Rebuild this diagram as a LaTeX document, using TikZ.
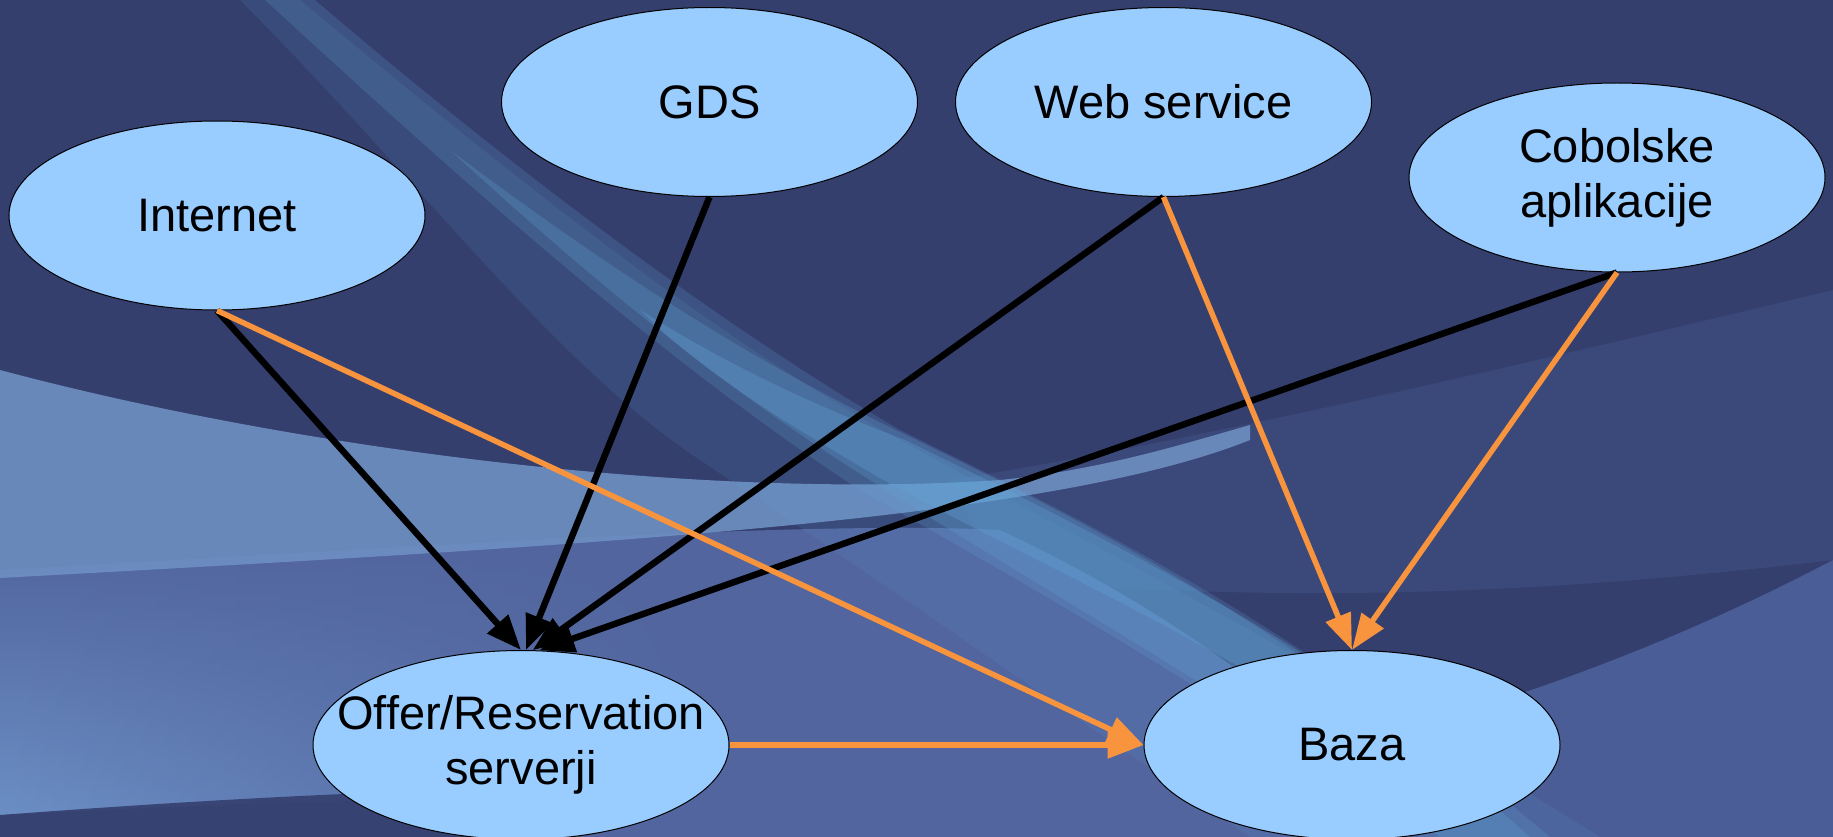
\documentclass[tikz,border=0pt]{standalone}
\usepackage{fontspec}
\setmainfont{Liberation Sans}
\usetikzlibrary{shapes.geometric,arrows.meta,fadings}
\definecolor{navy}{HTML}{343F6E}
\definecolor{ellfill}{HTML}{99CCFF}
\definecolor{orng}{HTML}{F7943D}
\definecolor{swooshc}{HTML}{62A6D8}
\definecolor{wavelight}{HTML}{6E90C2}
\definecolor{wavemid}{HTML}{52659E}
\definecolor{wavedark}{HTML}{4A5D96}
\definecolor{wavepale}{HTML}{6B8FC5}
\tikzfading[name=faderight, left color=transparent!0, middle color=transparent!0, right color=transparent!100]
\tikzset{
 ell/.style={ellipse, draw=black, line width=1pt, fill=ellfill, minimum width=416pt, minimum height=189pt, inner sep=0pt},
 lbl/.style={font=\fontsize{47}{55}\selectfont, align=center, text=black, inner sep=0pt},
 blk/.style={draw=black, line width=6.5pt, -{Triangle[length=35pt,width=27pt]}},
 org/.style={draw=orng, line width=5.5pt, -{Triangle[length=36pt,width=26pt]}},
}
\begin{document}
\begin{tikzpicture}[x=1pt,y=-1pt]
\useasboundingbox (0,0) rectangle (1833,837);
% background
\fill[navy] (0,0) rectangle (1833,837);
% faint wave on the right
\fill[wavedark, opacity=0.3] (950,480) .. controls (1200,440) and (1500,370) .. (1833,290)
   -- (1833,560) .. controls (1500,600) and (1250,600) .. (1000,580) -- cycle;
% lower region
\fill[wavemid] (0,570) .. controls (400,548) and (800,520) .. (1000,530)
   .. controls (1150,600) and (1300,700) .. (1420,837) -- (0,837) -- cycle;
% lower right band
\fill[wavedark] (1400,730) .. controls (1550,690) and (1700,630) .. (1833,560)
   -- (1833,837) -- (1300,837) -- cycle;
% lower left: gradually lighter downwards, fading out to the right
\shade[top color=wavemid, bottom color=wavepale, path fading=faderight]
   (0,575) .. controls (250,562) and (450,552) .. (700,545)
   -- (700,800) .. controls (400,795) and (200,805) .. (0,815) -- cycle;
% bottom left dark area
\fill[navy, opacity=0.9] (0,815) .. controls (200,800) and (380,790) .. (560,788)
   -- (560,837) -- (0,837) -- cycle;
% left light wave
\fill[wavelight, opacity=0.9] (0,370) .. controls (300,450) and (700,500) .. (1000,480)
   .. controls (1100,470) and (1180,445) .. (1250,425)
   -- (1250,440) .. controls (1050,520) and (600,545) .. (0,578) -- cycle;
% diagonal swoosh: faint broad part
\fill[swooshc, opacity=0.12] (300,0) .. controls (480,150) and (700,330) .. (900,440)
   .. controls (1100,550) and (1300,650) .. (1600,837)
   -- (1250,837) .. controls (1050,700) and (850,560) .. (700,460)
   .. controls (550,360) and (420,180) .. (240,0) -- cycle;
% diagonal swoosh: stripe, brighter downwards
\fill[swooshc, opacity=0.2] (315,0) .. controls (490,150) and (710,320) .. (900,430)
   .. controls (1080,520) and (1280,610) .. (1550,837)
   -- (1420,837) .. controls (1200,680) and (1000,570) .. (860,490)
   .. controls (660,360) and (450,170) .. (265,0) -- cycle;
\fill[swooshc, opacity=0.25] (450,150) .. controls (610,270) and (750,360) .. (900,432)
   .. controls (1080,520) and (1280,615) .. (1530,837)
   -- (1440,837) .. controls (1220,690) and (1020,575) .. (870,480)
   .. controls (710,380) and (570,260) .. (450,150) -- cycle;
\fill[swooshc, opacity=0.3] (640,310) .. controls (720,360) and (800,400) .. (905,440)
   .. controls (1070,520) and (1250,610) .. (1400,720)
   -- (1330,720) .. controls (1150,610) and (1000,545) .. (880,478)
   .. controls (780,420) and (700,370) .. (640,310) -- cycle;

% nodes
\node[ell] (int) at (217,215.5) {};
\node[ell] (gds) at (709.5,102) {};
\node[ell] (web) at (1163.5,102) {};
\node[ell] (cob) at (1617,177.5) {};
\node[ell] (off) at (521,745) {};
\node[ell] (baza) at (1352,745) {};
\node[lbl] (intT) at (int) {Internet};
\node[lbl] (gdsT) at (gds) {GDS};
\node[lbl] (webT) at (web) {Web service};
\node[lbl] (cobT) at (cob) {Cobolske\\aplikacije};
\node[lbl] (offT) at (off) {Offer/Reservation\\serverji};
\node[lbl] (bazaT) at (baza) {Baza};

% connectors
\draw[blk] (int.south) -- (off.north);
\draw[blk] (gds.south) -- (off.87);
\draw[blk] (web.south) -- (off.83);
\draw[blk] (cob.south) -- (off.79);
\draw[org] (int.south) -- (baza.west);
\draw[org] (web.south) -- (baza.north);
\draw[org] (cob.south) -- (baza.north);
\draw[org] (off.east) -- (baza.west);
\end{tikzpicture}
\end{document}
